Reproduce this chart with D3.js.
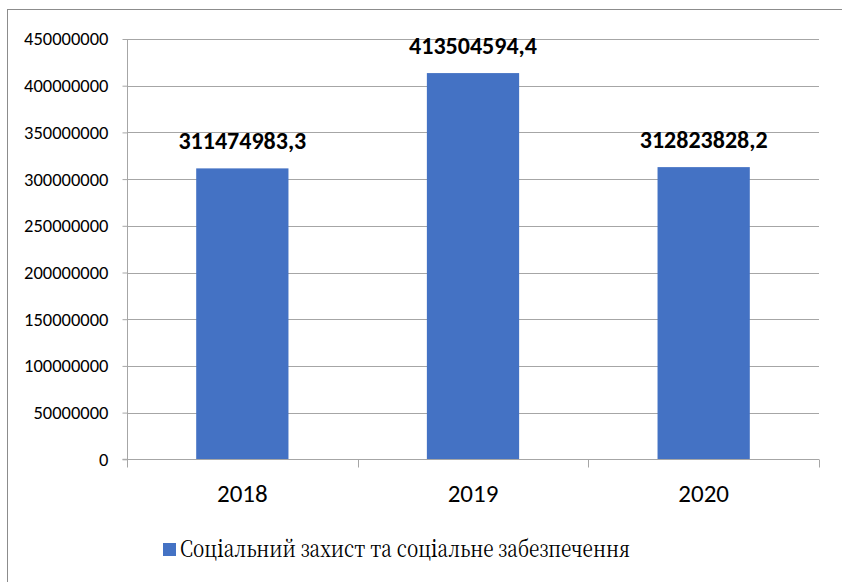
<!DOCTYPE html>
<html>
<head>
<meta charset="utf-8">
<script src="https://cdn.jsdelivr.net/npm/d3@7"></script>
<style>
  html, body { margin: 0; padding: 0; background: #fff; }
  svg { display: block; }
</style>
</head>
<body>
<svg id="chart" width="842" height="582"></svg>
<script>
// Social protection spending by year
const years = ["2018", "2019", "2020"];
const values = [311474983.3, 413504594.4, 312823828.2];
const valueLabels = ["311474983,3", "413504594,4", "312823828,2"];
const yTicks = [0, 50000000, 100000000, 150000000, 200000000, 250000000, 300000000, 350000000, 400000000, 450000000];
const seriesName = "Соціальний захист та соціальне забезпечення";

const sansFont = "Carlito, 'Open Sans', sans-serif";
const serifFont = "'Noto Serif CJK SC', 'Noto Serif', serif";

const svg = d3.select("#chart");
const plot = { left: 127, right: 819, top: 39, bottom: 459.3 };

// outer chart frame
svg.append("rect")
  .attr("x", 7.5).attr("y", 9.5)
  .attr("width", 850).attr("height", 600)
  .attr("fill", "none").attr("stroke", "#8c8c8c").attr("stroke-width", 1);

const x = d3.scaleBand().domain(years).range([plot.left, plot.right]).paddingInner(0).paddingOuter(0);
const y = d3.scaleLinear().domain([0, 450000000]).range([plot.bottom, plot.top]);

// horizontal gridlines
svg.append("g")
  .selectAll("line")
  .data(yTicks.filter(d => d > 0))
  .join("line")
  .attr("x1", plot.left).attr("x2", plot.right)
  .attr("y1", d => Math.round(y(d)) + 0.5).attr("y2", d => Math.round(y(d)) + 0.5)
  .attr("stroke", "#a6a6a6").attr("stroke-width", 1);

// y axis
const yAxis = d3.axisLeft(y).tickValues(yTicks).tickSize(5).tickPadding(14).tickFormat(d3.format("d"));
const gy = svg.append("g").attr("transform", `translate(${plot.left + 0.5},0)`).call(yAxis);
gy.select(".domain").attr("stroke", "#a6a6a6").attr("d", `M-5,${plot.bottom}H0V${plot.top}`);
gy.selectAll(".tick line").attr("stroke", "#a6a6a6");
gy.selectAll(".tick text")
  .style("font-family", sansFont)
  .style("font-size", "18.5px").attr("fill", "#000");

// bars
const barW = x.bandwidth() * 0.4;
svg.append("g")
  .selectAll("rect")
  .data(values)
  .join("rect")
  .attr("x", (d, i) => x(years[i]) + (x.bandwidth() - barW) / 2)
  .attr("y", d => y(d))
  .attr("width", barW)
  .attr("height", d => y(0) - y(d))
  .attr("fill", "#4472c4");

// x axis
const xAxis = d3.axisBottom(x).tickSize(0).tickPadding(25);
const gx = svg.append("g").attr("transform", `translate(0,${Math.round(plot.bottom) + 0.5})`).call(xAxis);
gx.select(".domain").attr("stroke", "#a6a6a6").attr("d", `M${plot.left},0H${plot.right}`);
gx.selectAll(".tick text")
  .style("font-family", sansFont)
  .style("font-size", "25px").attr("fill", "#000");
// category boundary ticks
const bounds = years.map(c => x(c)).concat([plot.right]);
gx.append("g").selectAll("line").data(bounds).join("line")
  .attr("x1", d => Math.round(d) + 0.5).attr("x2", d => Math.round(d) + 0.5)
  .attr("y1", 0).attr("y2", 8)
  .attr("stroke", "#a6a6a6");

// value labels
svg.append("g")
  .selectAll("text")
  .data(values)
  .join("text")
  .attr("x", (d, i) => x(years[i]) + x.bandwidth() / 2)
  .attr("y", d => y(d) - 19)
  .attr("text-anchor", "middle")
  .style("font-family", sansFont)
  .attr("font-weight", "bold")
  .style("font-size", "24px")
  .attr("fill", "#000")
  .text((d, i) => valueLabels[i]);

// legend
const legend = svg.append("g").attr("transform", "translate(163,543)");
legend.append("rect").attr("width", 13).attr("height", 13).attr("fill", "#4472c4");
legend.append("text")
  .attr("x", 17).attr("y", 14)
  .style("font-family", serifFont)
  .style("font-size", "23px").attr("fill", "#000")
  .attr("textLength", 450)
  .attr("lengthAdjust", "spacingAndGlyphs")
  .text(seriesName);
</script>
</body>
</html>
